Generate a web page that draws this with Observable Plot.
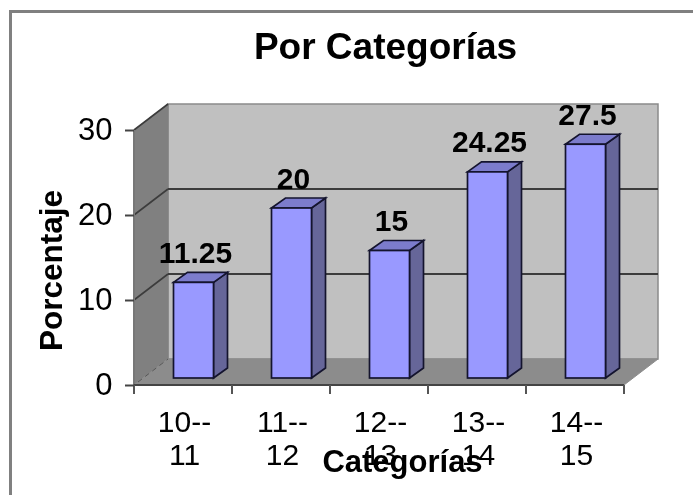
<!DOCTYPE html>
<html>
<head>
<meta charset="utf-8">
<script src="https://cdn.jsdelivr.net/npm/d3@7"></script>
<script src="https://cdn.jsdelivr.net/npm/@observablehq/plot@0.6"></script>
<style>
  html, body { margin: 0; padding: 0; background: #fff; }
  #frame { position: absolute; left: 9px; top: 10px; right: 0; bottom: 0; border-left: 3px solid #808080; border-top: 3px solid #808080; }
  #chart { position: absolute; left: 0; top: 0; }
  #chart svg { filter: blur(0.55px); background: transparent; overflow: visible; }
</style>
</head>
<body>
<div id="frame"></div>
<div id="chart"></div>
<script>
const categories = ["10--\n11", "11--\n12", "12--\n13", "13--\n14", "14--\n15"];
const percentages = [11.25, 20, 15, 24.25, 27.5];
const valueLabels = ["11.25", "20", "15", "24.25", "27.5"];
const yTicks = [0, 10, 20, 30];

const font = "'Liberation Sans', Arial, sans-serif";
const rows = categories.map((category, i) => ({category, value: percentages[i], label: valueLabels[i]}));

// 3D projection offsets, in pixels
const wall = {dx: 34, dy: -26};
const barOffset = {dx: 10.5, dy: -7};
const barDepth = {dx: 14, dy: -10};
const barWidth = 40;

function poly(g, pts, fill, stroke, strokeWidth, dash) {
  g.append("path")
    .attr("d", "M" + pts.map(p => p.join(",")).join("L") + "Z")
    .attr("fill", fill)
    .attr("stroke", stroke || "none")
    .attr("stroke-width", strokeWidth || 1)
    .attr("stroke-dasharray", dash || null);
}
function seg(g, a, b, stroke, strokeWidth, dash) {
  g.append("line")
    .attr("x1", a[0]).attr("y1", a[1]).attr("x2", b[0]).attr("y2", b[1])
    .attr("stroke", stroke).attr("stroke-width", strokeWidth)
    .attr("stroke-dasharray", dash || null);
}

// Walls, floor and gridlines of the 3D box, placed with the chart's scales
function box(index, {x, y}) {
  const g = d3.create("svg:g");
  const bw = x.bandwidth();
  const x0 = x(categories[0]);
  const x1 = x(categories[categories.length - 1]) + bw;
  const y0 = y(yTicks[0]);
  const yT = y(yTicks[yTicks.length - 1]);
  const {dx, dy} = wall;
  poly(g, [[x0 + dx, yT + dy], [x1 + dx, yT + dy], [x1 + dx, y0 + dy], [x0 + dx, y0 + dy]], "#c0c0c0", "#8a8a8a", 1.5);
  poly(g, [[x0, yT], [x0 + dx, yT + dy], [x0 + dx, y0 + dy], [x0, y0]], "#808080", "#808080", 1);
  poly(g, [[x0, y0], [x0 + dx, y0 + dy], [x1 + dx, y0 + dy], [x1, y0]], "#8c8c8c", "#8c8c8c", 1);
  seg(g, [x0 + 4, y0 - 3], [x0 + dx, y0 + dy], "#555", 1, "5 4");
  for (const t of yTicks.slice(1)) {
    const yy = y(t);
    if (t !== yTicks[yTicks.length - 1]) seg(g, [x0 + dx, yy + dy], [x1 + dx, yy + dy], "#3c3c3c", 2);
    seg(g, [x0, yy], [x0 + dx, yy + dy], "#3c3c3c", 1.6);
  }
  seg(g, [x0, yT], [x0, y0], "#777", 2);
  seg(g, [x0, y0], [x1, y0], "#444", 2);
  for (let i = 0; i <= categories.length; i++) {
    const tx = x0 + i * bw;
    seg(g, [tx, y0], [tx, y0 + 9], "#555", 2);
  }
  return g.node();
}

// Side and top faces of each bar, placed with the chart's scales
function barFaces(index, {x, y}) {
  const g = d3.create("svg:g");
  for (const d of rows) {
    const left = x(d.category) + (x.bandwidth() - barWidth) / 2 + barOffset.dx;
    const right = left + barWidth;
    const top = y(d.value) + barOffset.dy;
    const base = y(0) + barOffset.dy;
    const {dx, dy} = barDepth;
    poly(g, [[right, top], [right + dx, top + dy], [right + dx, base + dy], [right, base]], "#666699", "#14142e", 1.7);
    poly(g, [[left, top], [left + dx, top + dy], [right + dx, top + dy], [right, top]], "#7c7ccc", "#14142e", 1.7);
  }
  return g.node();
}

const chart = Plot.plot({
  width: 693,
  height: 495,
  marginLeft: 134,
  marginRight: 69,
  marginTop: 130,
  marginBottom: 110,
  style: {fontFamily: font, background: "transparent"},
  x: {domain: categories, padding: 0, label: null},
  y: {domain: [0, 30], label: null},
  marks: [
    box,
    barFaces,
    Plot.barY(rows, {
      x: "category",
      y: "value",
      insetLeft: (98 - barWidth) / 2,
      insetRight: (98 - barWidth) / 2,
      dx: barOffset.dx,
      dy: barOffset.dy,
      fill: "#9999ff",
      stroke: "#14142e",
      strokeWidth: 1.7
    }),
    Plot.axisY({
      ticks: yTicks,
      tickSize: 9,
      tickPadding: 13,
      fontSize: 31,
      stroke: "#444",
      strokeWidth: 2,
      fill: "#000",
      label: null
    }),
    Plot.axisX({
      tickSize: 0,
      tickPadding: 22,
      fontSize: 30,
      lineHeight: 1.13,
      fill: "#000",
      label: null,
      dx: 1
    }),
    Plot.text(rows, {
      x: "category",
      y: "value",
      text: "label",
      dx: 12,
      dy: -27,
      lineAnchor: "bottom",
      fontSize: 30,
      fontWeight: "bold",
      fill: "#000",
      stroke: "none"
    }),
    Plot.text(["Por Categorías"], {
      frameAnchor: "top",
      dx: 6,
      dy: -98,
      lineAnchor: "top",
      fontSize: 37,
      fontWeight: "bold",
      fill: "#000"
    }),
    Plot.text(["Categorías"], {
      frameAnchor: "bottom",
      dx: 23,
      dy: 86,
      lineAnchor: "bottom",
      fontSize: 31,
      fontWeight: "bold",
      fill: "#000"
    }),
    Plot.text(["Porcentaje"], {
      frameAnchor: "left",
      textAnchor: "middle",
      dx: -83,
      dy: 12.5,
      rotate: -90,
      fontSize: 31.5,
      fontWeight: "bold",
      fill: "#000"
    })
  ]
});
document.getElementById("chart").append(chart);
</script>
</body>
</html>
